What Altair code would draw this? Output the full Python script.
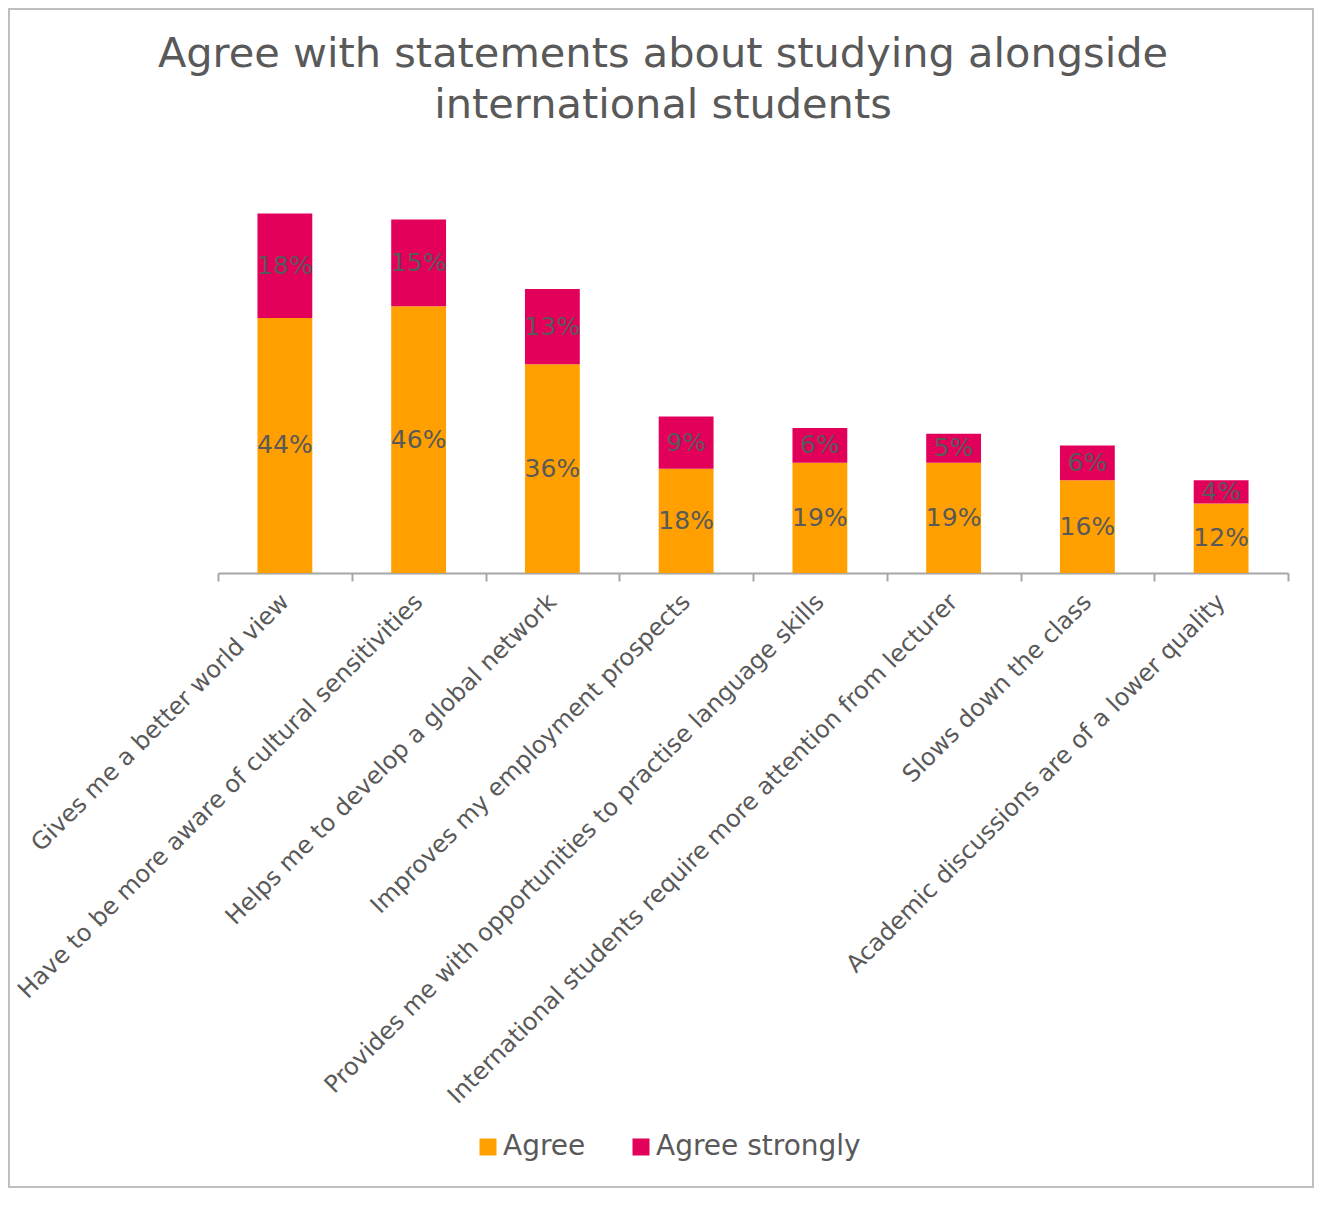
import altair as alt
import pandas as pd

statements = [
    "Gives me a better world view",
    "Have to be more aware of cultural sensitivities",
    "Helps me to develop a global network",
    "Improves my employment prospects",
    "Provides me with opportunities to practise language skills",
    "International students require more attention from lecturer",
    "Slows down the class",
    "Academic discussions are of a lower quality",
]
agree = [44, 46, 36, 18, 19, 19, 16, 12]
agree_strongly = [18, 15, 13, 9, 6, 5, 6, 4]
series = ["Agree", "Agree strongly"]
colors = ["#FFA000", "#E3005B"]

rows = []
for s, a, b in zip(statements, agree, agree_strongly):
    rows.append({"statement": s, "series": series[0], "value": a, "order": 0})
    rows.append({"statement": s, "series": series[1], "value": b, "order": 1})
df = pd.DataFrame(rows)

FONT = "DejaVu Sans"
GREY = "#595959"
W, H = 1070, 400
PAD_L, PAD_T, PAD_R = 210, 165, 26
CANVAS_W, CANVAS_H = PAD_L + W + PAD_R, 1180
PAD_B = CANVAS_H - PAD_T - H

yscale = alt.Scale(domain=[0, 69])
xenc = alt.X(
    "statement:N",
    sort=statements,
    scale=alt.Scale(paddingInner=0, paddingOuter=0),
    axis=alt.Axis(
        title=None,
        labelAngle=315,
        labelAlign="right",
        labelBaseline="middle",
        labelFont=FONT,
        labelFontSize=24,
        labelColor=GREY,
        labelLimit=1000,
        labelPadding=17,
        tickBand="extent",
        tickSize=8,
        tickColor="#a6a6a6",
        tickWidth=2,
        domainColor="#a6a6a6",
        domainWidth=2,
        grid=False,
    ),
)

base = alt.Chart(df)

bars = base.mark_bar(width=alt.RelativeBandSize(0.41)).encode(
    x=xenc,
    y=alt.Y("value:Q", stack="zero", scale=yscale, axis=None),
    color=alt.Color(
        "series:N",
        scale=alt.Scale(domain=series, range=colors),
        legend=alt.Legend(
            title=None,
            orient="none",
            legendX=256,
            legendY=960,
            direction="horizontal",
            symbolType="square",
            symbolSize=289,
            symbolStrokeWidth=0,
            labelFont=FONT,
            labelFontSize=28,
            labelColor=GREY,
            labelOffset=1,
            labelLimit=500,
            columnPadding=41,
            padding=0,
        ),
    ),
    order=alt.Order("order:Q"),
)

labels = (
    base.transform_stack(
        stack="value",
        groupby=["statement"],
        as_=["v0", "v1"],
        sort=[alt.SortField("order", order="ascending")],
    )
    .transform_calculate(mid="(datum.v0 + datum.v1) / 2", label="datum.value + '%'")
    .mark_text(font=FONT, fontSize=25, color=GREY, baseline="middle", align="center")
    .encode(
        x=alt.X("statement:N", sort=statements),
        y=alt.Y("mid:Q", scale=yscale, axis=None),
        text="label:N",
    )
)

border = (
    alt.Chart(pd.DataFrame({"b": [0]}))
    .mark_rect(filled=False, stroke="#bfbfbf", strokeWidth=2)
    .encode(
        x=alt.value(-PAD_L + 1),
        x2=alt.value(W + PAD_R - 1),
        y=alt.value(-PAD_T + 1),
        y2=alt.value(H + PAD_B - 1),
    )
)

chart = (
    alt.layer(border, bars, labels)
    .properties(
        width=W,
        height=H,
        title=alt.TitleParams(
            text=["Agree with statements about studying alongside", "international students"],
            font=FONT,
            fontSize=41.5,
            fontWeight="normal",
            color=GREY,
            anchor="middle",
            frame="group",
            dx=-90,
            dy=166,
            offset=48,
            lineHeight=51,
        ),
        autosize=alt.AutoSizeParams(type="none"),
        padding={"left": PAD_L, "top": PAD_T, "right": PAD_R, "bottom": PAD_B},
        background="white",
    )
    .configure_view(stroke=None)
)

chart.save("out.html", embed_options={"renderer": "svg", "actions": False})
